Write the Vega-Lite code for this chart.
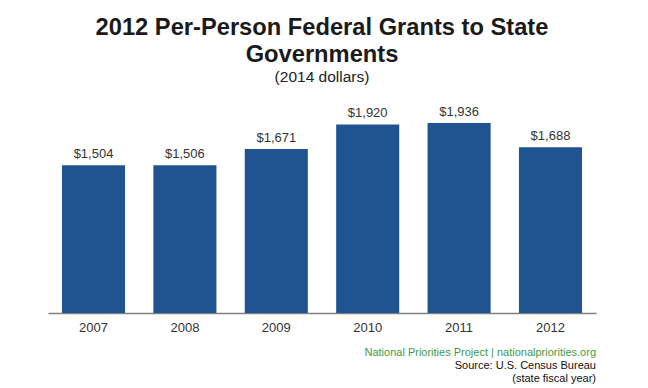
{
  "$schema": "https://vega.github.io/schema/vega-lite/v6.json",
  "background": "white",
  "padding": {"left": 48, "right": 52, "top": 15, "bottom": 0},
  "title": {
    "text": ["2012 Per-Person Federal Grants to State", "Governments"],
    "subtitle": "(2014 dollars)",
    "anchor": "middle",
    "font": "Liberation Sans",
    "fontSize": 23.7,
    "fontWeight": "bold",
    "color": "#1a1a1a",
    "lineHeight": 27,
    "subtitleFont": "Liberation Sans",
    "subtitleFontSize": 15.5,
    "subtitleColor": "#222222",
    "subtitlePadding": 3,
    "offset": 12
  },
  "data": {
    "values": [
      {"year": "2007", "grants": 1504},
      {"year": "2008", "grants": 1506},
      {"year": "2009", "grants": 1671},
      {"year": "2010", "grants": 1920},
      {"year": "2011", "grants": 1936},
      {"year": "2012", "grants": 1688}
    ]
  },
  "vconcat": [
    {
      "width": 548,
      "height": 216,
      "title": {
        "text": "National Priorities Project | nationalpriorities.org",
        "subtitle": ["Source: U.S. Census Bureau", "(state fiscal year)"],
        "orient": "bottom",
        "anchor": "end",
        "font": "Liberation Sans",
        "fontSize": 11,
        "fontWeight": "normal",
        "color": "#3f9a45",
        "subtitleFont": "Liberation Sans",
        "subtitleFontSize": 11,
        "subtitleColor": "#111111",
        "subtitleLineHeight": 13,
        "subtitlePadding": 2,
        "offset": 13
      },
      "encoding": {
        "x": {
          "field": "year",
          "type": "ordinal",
          "scale": {"paddingInner": 0.31, "paddingOuter": 0.153},
          "axis": {
            "title": null,
            "labelAngle": 0,
            "ticks": false,
            "labelFont": "Liberation Sans",
            "labelFontSize": 13,
            "labelColor": "#333333",
            "labelPadding": 8,
            "domainColor": "#808080",
            "domainWidth": 1.5
          }
        },
        "y": {
          "field": "grants",
          "type": "quantitative",
          "scale": {"domain": [0, 2200], "nice": false},
          "axis": null
        }
      },
      "layer": [
        {"mark": {"type": "bar", "color": "#1f5490"}},
        {
          "mark": {
            "type": "text",
            "baseline": "alphabetic",
            "dy": -7,
            "font": "Liberation Sans",
            "fontSize": 13,
            "color": "#333333"
          },
          "encoding": {"text": {"field": "grants", "type": "quantitative", "format": "$,.0f"}}
        }
      ]
    }
  ],
  "config": {
    "view": {"stroke": null},
    "concat": {"spacing": 0},
    "axis": {"grid": false}
  }
}
